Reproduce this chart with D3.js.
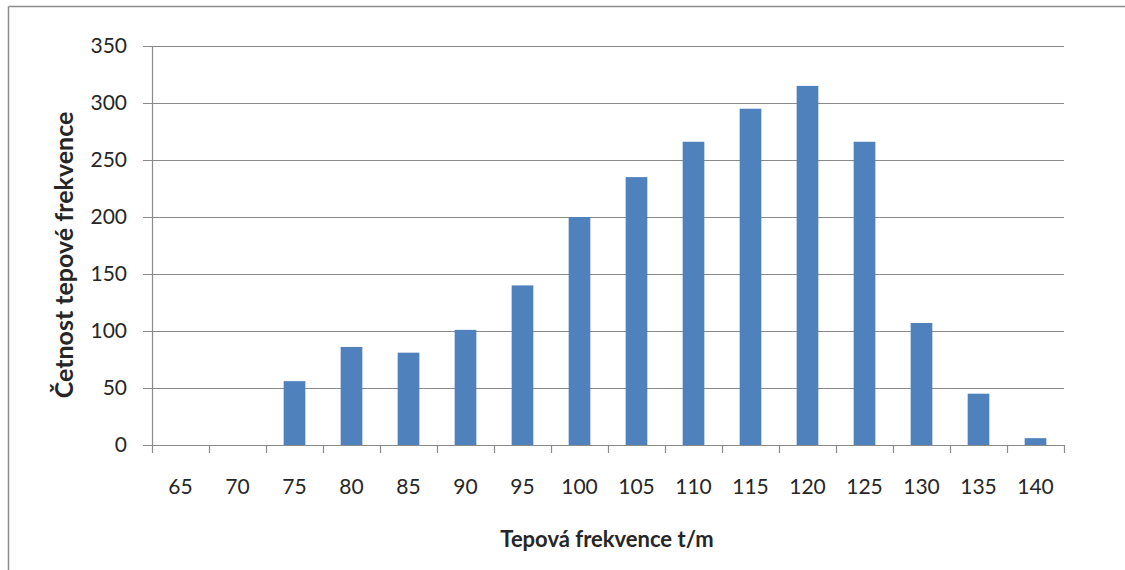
<!DOCTYPE html>
<html>
<head>
<meta charset="utf-8">
<script src="https://cdn.jsdelivr.net/npm/d3@7"></script>
<style>
  html, body { margin: 0; padding: 0; background: #fff; }
  svg { display: block; }
</style>
</head>
<body>
<svg id="chart" width="1125" height="570"></svg>
<script>
// Heart-rate classes (beats per minute) and how often each occurred
const categories = ["65", "70", "75", "80", "85", "90", "95", "100", "105", "110", "115", "120", "125", "130", "135", "140"];
const counts = [0, 0, 56, 86, 81, 101, 140, 200, 235, 266, 295, 315, 266, 107, 45, 6];
const yTicks = [0, 50, 100, 150, 200, 250, 300, 350];
const xTitle = "Tepová frekvence t/m";
const yTitle = "Četnost tepové frekvence";

const svg = d3.select("#chart");
const font = "Lato, 'Open Sans', sans-serif";
const gridColor = "#8a8a8a";

const plot = { left: 152, right: 1064, top: 46, bottom: 445 };

const x = d3.scaleBand()
  .domain(categories)
  .range([plot.left, plot.right])
  .paddingInner(0.62)
  .paddingOuter(0.31);

const y = d3.scaleLinear()
  .domain([0, 350])
  .range([plot.bottom, plot.top]);

// outer frame (top and left edges)
svg.append("line")
  .attr("x1", 8.5).attr("x2", 1125).attr("y1", 6.5).attr("y2", 6.5)
  .attr("stroke", "#8c8c8c").attr("stroke-width", 1.5);
svg.append("line")
  .attr("x1", 8.5).attr("x2", 8.5).attr("y1", 6.5).attr("y2", 570)
  .attr("stroke", "#8c8c8c").attr("stroke-width", 1.5);

// horizontal gridlines with left tick stubs, plus value labels
const yAxis = d3.axisLeft(y)
  .tickValues(yTicks)
  .tickSize(-(plot.right - plot.left))
  .tickSizeOuter(0)
  .tickPadding(16)
  .tickFormat(d3.format("d"));

const yg = svg.append("g")
  .attr("transform", `translate(${plot.left},0)`)
  .call(yAxis);
yg.select(".domain").remove();
yg.selectAll(".tick line")
  .attr("x1", -9)
  .attr("stroke", gridColor)
  .attr("stroke-width", 1.2);
yg.selectAll(".tick text")
  .attr("x", -25)
  .attr("font-family", font)
  .attr("font-size", 21)
  .attr("fill", "#262626");

// vertical axis line
svg.append("line")
  .attr("x1", plot.left + 0.5).attr("x2", plot.left + 0.5)
  .attr("y1", y(350)).attr("y2", y(0))
  .attr("stroke", gridColor).attr("stroke-width", 1.2);

// bars
svg.append("g")
  .selectAll("rect")
  .data(categories.map((c, i) => ({ c, v: counts[i] })))
  .join("rect")
  .attr("x", d => x(d.c))
  .attr("width", x.bandwidth())
  .attr("y", d => y(d.v))
  .attr("height", d => y(0) - y(d.v))
  .attr("fill", "#4f81bd");

// category axis: baseline, boundary ticks, labels
const step = x.step();
const gap = step - x.bandwidth();
const boundaries = categories.map(c => x(c) - gap / 2).concat([x(categories[categories.length - 1]) + x.bandwidth() + gap / 2]);

svg.append("line")
  .attr("x1", plot.left).attr("x2", plot.right)
  .attr("y1", y(0) + 0.5).attr("y2", y(0) + 0.5)
  .attr("stroke", gridColor).attr("stroke-width", 1.2);

svg.append("g")
  .selectAll("line")
  .data(boundaries)
  .join("line")
  .attr("x1", d => d + 0.5).attr("x2", d => d + 0.5)
  .attr("y1", y(0)).attr("y2", y(0) + 8)
  .attr("stroke", gridColor).attr("stroke-width", 1.2);

svg.append("g")
  .selectAll("text")
  .data(categories)
  .join("text")
  .attr("x", d => x(d) + x.bandwidth() / 2)
  .attr("y", 494)
  .attr("text-anchor", "middle")
  .attr("font-family", font)
  .attr("font-size", 21)
  .attr("fill", "#262626")
  .text(d => d);

// axis titles
svg.append("text")
  .attr("x", 607)
  .attr("y", 547)
  .attr("text-anchor", "middle")
  .attr("font-family", font)
  .attr("font-weight", "bold")
  .attr("font-size", 22)
  .attr("fill", "#262626")
  .text(xTitle);

svg.append("text")
  .attr("transform", "translate(73,255) rotate(-90)")
  .attr("text-anchor", "middle")
  .attr("font-family", font)
  .attr("font-weight", "bold")
  .attr("font-size", 25)
  .attr("fill", "#262626")
  .text(yTitle);
</script>
</body>
</html>
